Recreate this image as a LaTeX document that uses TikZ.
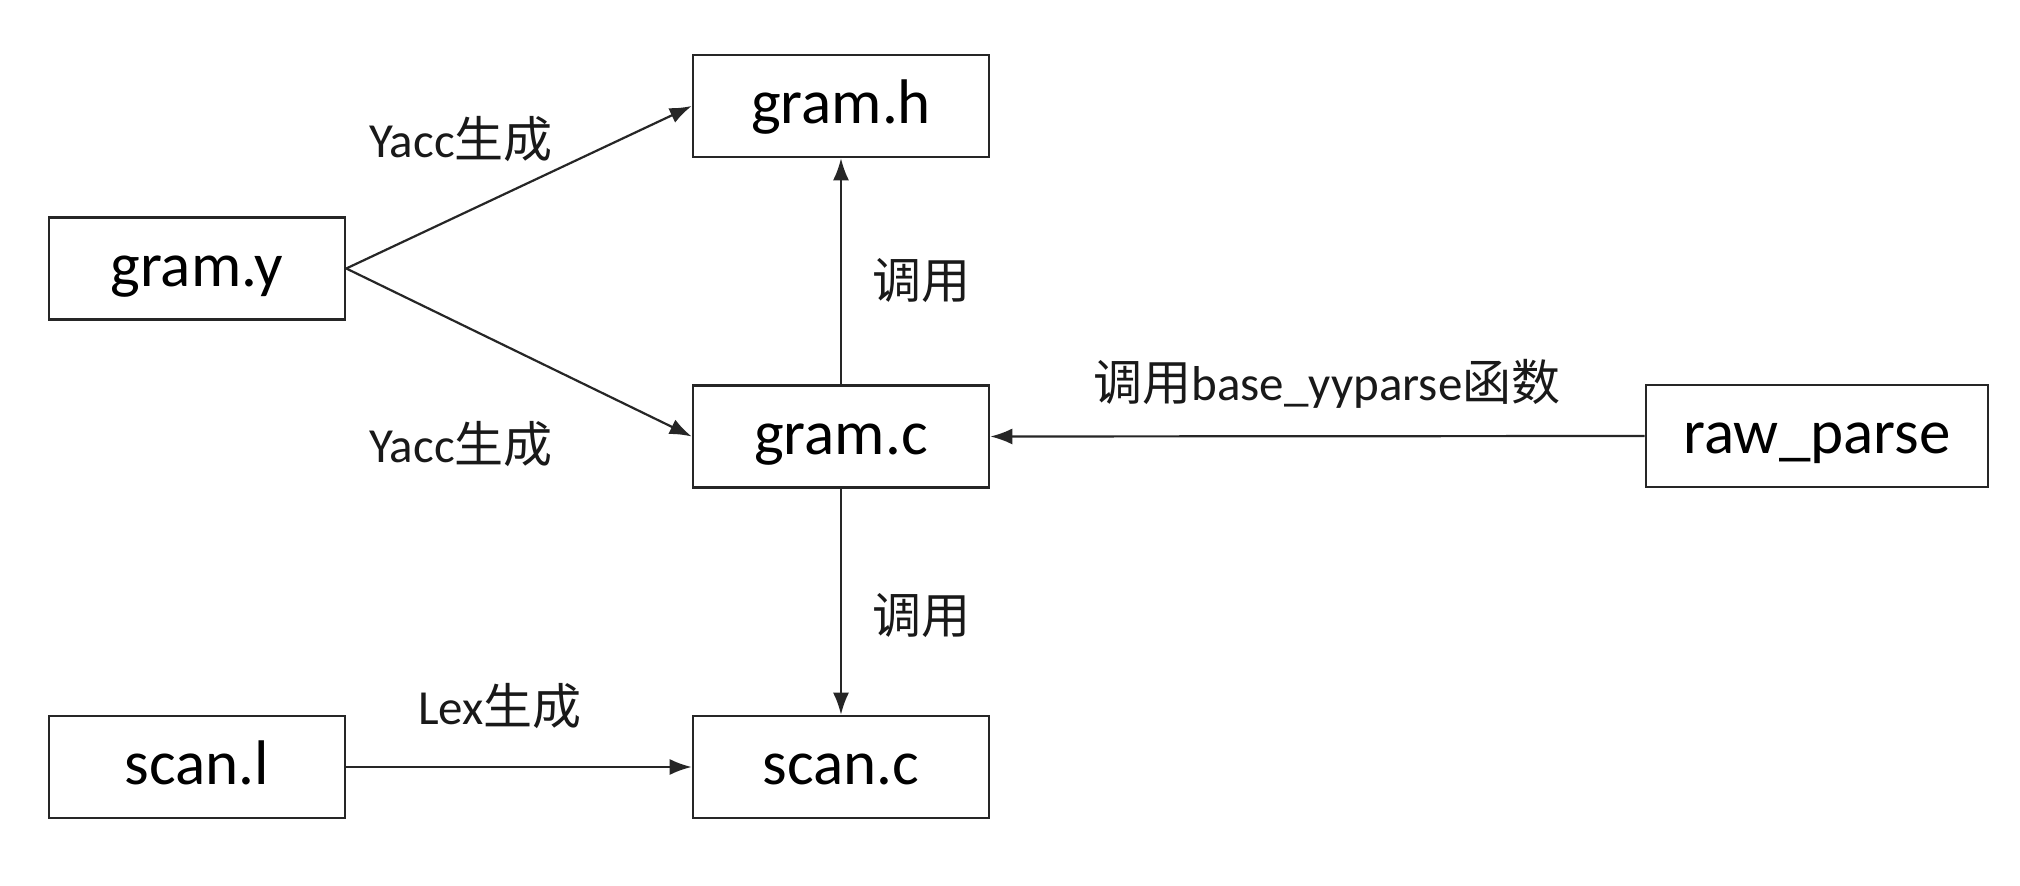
\documentclass[tikz,border=0pt]{standalone}
\usepackage{fontspec}
\setmainfont{Carlito}
\newfontfamily\cjk{Noto Sans CJK SC}
\usetikzlibrary{arrows.meta}
\tikzset{
  box/.style={draw=black!85, line width=1.3pt, minimum width=148pt, minimum height=51pt, inner sep=0pt, text height=24pt, text depth=6pt, font=\fontsize{31.5pt}{36pt}\selectfont},
  lbl/.style={inner sep=0pt, font=\fontsize{24.5pt}{28pt}\selectfont, text=black!90},
  conn/.style={draw=black!85, line width=1.1pt, -{Latex[length=11pt,width=8pt]}}
}
\begin{document}
\begin{tikzpicture}[x=0.5pt,y=-0.5pt]
\useasboundingbox[fill=white] (0,0) rectangle (2020,886);
\node[box] (gh) at (841,106) {gram.h};
\node[box] (gy) at (197,268.5) {gram.y};
\node[box] (gc) at (841,436.5) {gram.c};
\node[box, minimum width=171pt] (rp) at (1817,436) {raw\_parse};
\node[box] (sl) at (197,767) {scan.l};
\node[box] (sc) at (841,767) {scan.c};
\node[lbl] (l1) at (461,139) {Yacc{\cjk 生成}};
\node[lbl] (l2) at (461,444) {Yacc{\cjk 生成}};
\node[lbl] (l3) at (921,281) {\cjk 调用};
\node[lbl] (l4) at (921,616) {\cjk 调用};
\node[lbl] (l5) at (1327,384) {{\cjk 调用}base\_yyparse{\cjk 函数}};
\node[lbl] (l6) at (500,706) {Lex{\cjk 生成}};
\draw[conn] (gy.east) -- (gh.west);
\draw[conn] (gy.east) -- (gc.west);
\draw[conn] (gc.north) -- (gh.south);
\draw[conn] (rp.west) -- (gc.east);
\draw[conn] (gc.south) -- (sc.north);
\draw[conn] (sl.east) -- (sc.west);
\end{tikzpicture}
\end{document}
